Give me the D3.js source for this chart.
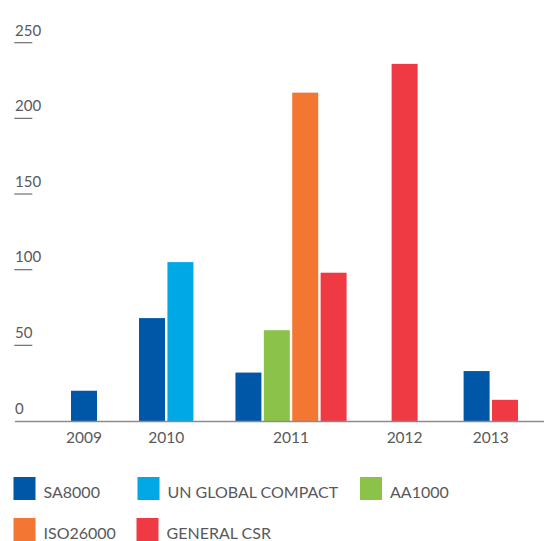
<!DOCTYPE html>
<html>
<head>
<meta charset="utf-8">
<script src="https://cdn.jsdelivr.net/npm/d3@7"></script>
<style>
  html, body { margin: 0; padding: 0; background: #fff; }
  svg { display: block; font-family: Lato, "Open Sans", sans-serif; }
</style>
</head>
<body>
<svg id="chart" width="544" height="541"></svg>
<script>
// Years on the x axis
const years = ["2009", "2010", "2011", "2012", "2013"];
// Standards (series) and their colours
const series = ["SA8000", "UN GLOBAL COMPACT", "AA1000", "ISO26000", "GENERAL CSR"];
const colors = ["#0057a8", "#00a8e5", "#8bc34a", "#f37633", "#ef3a43"];
// Counts per year for each standard (0 = not reported that year)
const sa8000 = [20, 68, 32, 0, 33];
const unGlobalCompact = [0, 105, 0, 0, 0];
const aa1000 = [0, 0, 60, 0, 0];
const iso26000 = [0, 0, 217, 0, 0];
const generalCsr = [0, 0, 98, 236, 14];
// Y axis ticks
const yTicks = [0, 50, 100, 150, 200, 250];

const values = [sa8000, unGlobalCompact, aa1000, iso26000, generalCsr];

const svg = d3.select("#chart");
const W = 544;
const baseline = 421;

const y = d3.scaleLinear().domain([0, 250]).range([baseline, 42.7]);

// Group layout: only non-zero series are drawn, packed side by side.
// Positions are in "bar step" units (one bar plus its inner gap);
// the space after each group is given in the same units.
const barFrac = 26 / 28.4;
const gapsAfter = [1.48, 1.48, 1.585, 1.62];
const groups = [];
let cursor = 0;
years.forEach((yr, gi) => {
  const bars = [];
  series.forEach((s, si) => {
    const v = values[si][gi];
    if (v > 0) bars.push({ year: yr, series: s, si, value: v });
  });
  bars.forEach((b, k) => { b.pos = cursor + k; });
  const width = bars.length - (1 - barFrac);
  groups.push({ year: yr, start: cursor, end: cursor + width, bars });
  cursor += width + (gapsAfter[gi] || 0);
});
const totalUnits = groups[groups.length - 1].end;
const x = d3.scaleLinear().domain([0, totalUnits]).range([71, 518]);
const bw = x(barFrac) - x(0);

// Bars
const allBars = groups.flatMap(g => g.bars);
svg.append("g").selectAll("rect").data(allBars).join("rect")
  .attr("x", d => x(d.pos))
  .attr("y", d => y(d.value))
  .attr("width", bw)
  .attr("height", d => baseline - y(d.value))
  .attr("fill", d => colors[d.si]);

// Y axis: labels sitting above short tick rules
const yAxis = svg.append("g").attr("class", "y-axis");
yAxis.selectAll("line").data(yTicks.filter(t => t > 0)).join("line")
  .attr("x1", 14.3).attr("x2", 32.3)
  .attr("y1", d => y(d)).attr("y2", d => y(d))
  .attr("stroke", "#6d6e71").attr("stroke-width", 1.2);
yAxis.selectAll("text").data(yTicks).join("text")
  .attr("x", 15)
  .attr("y", d => y(d) - 7.2)
  .attr("font-size", 15)
  .attr("fill", "#58595b")
  .text(d => d);

// Baseline
svg.append("line")
  .attr("x1", 15).attr("x2", W)
  .attr("y1", baseline + 0.5).attr("y2", baseline + 0.5)
  .attr("stroke", "#8a8b8d").attr("stroke-width", 1.3);

// X labels centred under each group
svg.append("g").selectAll("text").data(groups).join("text")
  .attr("x", g => (x(g.start) + x(g.end)) / 2)
  .attr("y", 443)
  .attr("text-anchor", "middle")
  .attr("font-size", 15.5)
  .attr("fill", "#58595b")
  .text(g => g.year);

// Legend
const legendItems = [
  { si: 0, x: 13.5, y: 477 },
  { si: 1, x: 137.5, y: 477 },
  { si: 2, x: 360, y: 477 },
  { si: 3, x: 13.5, y: 518 },
  { si: 4, x: 136.5, y: 518 }
];
const lg = svg.append("g").selectAll("g").data(legendItems).join("g")
  .attr("transform", d => `translate(${d.x},${d.y})`);
lg.append("rect").attr("width", 22).attr("height", 23)
  .attr("fill", d => colors[d.si]);
lg.append("text")
  .attr("x", 30).attr("y", 20.5)
  .attr("font-size", 16)
  .attr("fill", "#58595b")
  .text(d => series[d.si]);
</script>
</body>
</html>
